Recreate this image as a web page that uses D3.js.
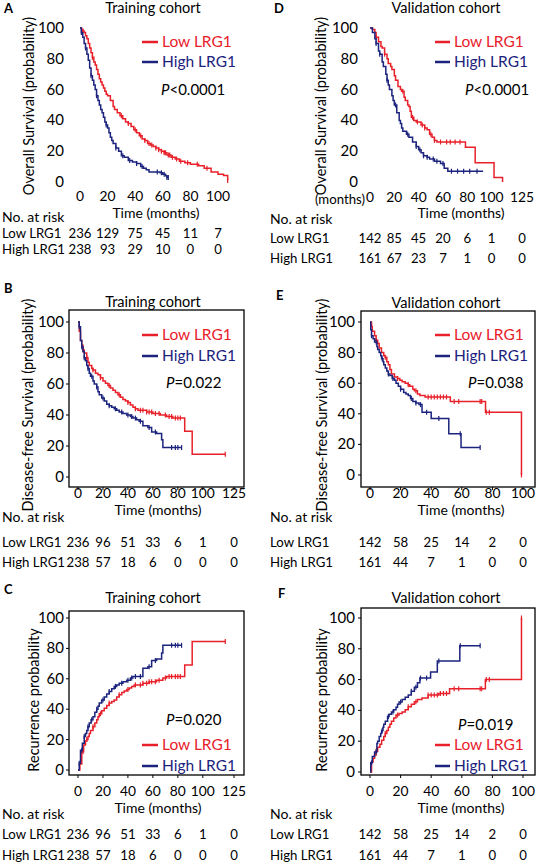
<!DOCTYPE html>
<html><head><meta charset="utf-8">
<script src="https://cdn.jsdelivr.net/npm/d3@7"></script>
<style>
html,body{margin:0;padding:0;background:#fff;}
svg{display:block;font-family:Lato,"Open Sans",sans-serif;}
</style></head>
<body>
<svg id="chart" width="537" height="864"></svg>
<script>
// ---------------- DATA ----------------
const seriesNames = ["Low LRG1", "High LRG1"];
const pTexts = ["<0.0001", "=0.022", "=0.020", "<0.0001", "=0.038", "=0.019"];
const titles = ["Training cohort", "Training cohort", "Training cohort", "Validation cohort", "Validation cohort", "Validation cohort"];
const yLabels = ["Overall Survival (probability)", "Disease-free Survival (probability)", "Recurrence probability"];
const yTicks = [0, 20, 40, 60, 80, 100];
const xTicksA = [0, 20, 40, 60, 80, 100];
const xTicksBC = [0, 20, 40, 60, 80, 100, 125];
const xTicksD = [0, 20, 40, 60, 80, 100, 125];
const xTicksEF = [0, 20, 40, 60, 80, 100];

// [month, %]
const osTrainLow = [[0,100],[1,99],[2,98],[3,97],[4,95],[5,93],[6,90],[7,87],[8,84],[9,81],[10,78],[11,76],[12,73],[13,70],[14,67],[15,65],[16,63],[17,61],[18,59],[19,57],[20,56],[22,53],[24,49],[25,47],[27,45],[29,43],[31,41],[33,39],[35,38],[37,36],[39,34],[41,32],[43,30],[45,28],[47,27],[49,25],[51,24],[53,23],[55,22],[57,21],[59,20],[61,19],[63,17.5],[66,16],[69,15],[72,13.5],[76,12.5],[80,11.5],[86,10.5],[90,9],[95,6.5],[100,5],[104,4.3],[107,1],[107,1]];
const osTrainHigh = [[0,100],[1,97],[2,94],[3,90],[4,87],[5,83],[6,79],[7,74],[8,69],[9,66],[10,63],[11,60],[12,56],[13,53],[14,50],[15,47],[16,45],[17,42],[18,39],[19,37],[20,35],[21,32],[22,29],[23,27],[24,25],[26,22],[28,20],[30,17],[32,16],[35,14],[38,13],[41,12],[44,10],[46,9],[48,8],[50,6.5],[58,6],[60,5],[62,4],[63,3],[64,3]];
const osValLow = [[0,100],[2,99],[4,97],[5,94],[7,91],[9,88],[10,87],[12,83],[14,80],[15,77],[17,75],[18,73],[20,69],[21,66],[23,62],[25,60],[26,59],[28,55],[29,53],[31,50],[32,49],[33,46],[34,42],[36,40],[38,39],[42,37],[45,35],[47,34],[49,31],[51,29],[53,27],[55,26],[78,26],[78.5,22.5],[86,22.5],[86.5,12.5],[101,12.5],[102,3],[109,3],[109,0]];
const osValHigh = [[0,100],[2,97],[4,93],[5,90],[7,85],[8,83],[10,78],[11,75],[13,70],[14,66],[15,63],[16,60],[18,56],[19,53],[20,50],[22,45],[24,40],[25,38],[26,35],[27,33],[30,31],[32,29],[35,26],[38,23],[40,21],[42,19],[44,17],[47,16],[49,15],[53,13.5],[58,12],[61,9],[64,7],[93,7]];
const dfsTrainLow = [[0,100],[1,94],[2,88],[3,85],[4,82],[5,80],[7,77],[8,74],[9,72],[11,70],[12,69],[14,67],[16,66],[18,64],[20,62],[22,60.5],[24,59],[26,57.5],[28,56],[30,54.5],[32,53],[34,51.5],[36,50],[38,49],[40,48],[42,46.5],[44,45],[46,44],[48,43],[55,42],[60,41],[66,40],[71,39],[76,38],[85,38],[85.5,29.5],[91,29.5],[91.5,14.6],[118,14.6]];
const dfsTrainHigh = [[0,100],[1,97],[2,88],[3,84],[4,81],[5,77],[6,75],[7,72],[8,70],[9,67],[10,65],[12,62],[13,60],[15,58],[16,55],[17,53],[19,51],[21,49],[23,47],[25,46],[27,45],[29,44],[31,43],[33,42],[36,41],[39,40],[42,39],[44,38],[47,37],[49,36],[52,33],[56,32],[59,29],[63,28],[66,28],[67,24],[68,19],[83,19]];
const dfsValLow = [[0,100],[1,97],[1.5,94],[3,91],[4,88],[5,86],[6,83],[7.5,80],[9,78],[10,77],[11,74],[12,72],[13,69],[14,66],[16,64],[18,63],[19.5,62],[21,61],[23,60],[25,59],[26,58],[28,56],[29,55],[31,53],[32.6,52],[36,51],[52,51],[52.5,48],[75,48],[75.5,41],[99,41],[99,0]];
const dfsValHigh = [[0,100],[0.5,95],[1,91],[2,89],[3,87],[4.5,84],[5,82],[6,80],[7,78],[7.6,76],[8.5,74],[9,72],[10,70],[11,68],[12,66],[13,65],[14.5,63],[16,62],[17,60],[18.5,58],[20,56],[22,54],[23.5,53],[25,52],[26.5,50],[28,48],[30,47],[32,46],[34,41],[39.5,41],[40,37],[51,37],[51.5,27],[59,27],[59.5,18],[72,18]];
const recTrainLow = [[0,0],[1.5,4],[3,12],[4.5,16.5],[6,19],[7,20],[8,22],[9,24],[10,26],[12,28.5],[13.5,31],[15,33],[16,35],[17,37],[19,39],[21,40.6],[23,42.5],[25,44],[27,45],[29,46],[31,48],[33,49.5],[35,51],[37,52],[39,53],[41,54],[43,55],[45,56],[52,57],[57,58],[63,59],[68,60.5],[71,61.5],[85,61.5],[85.5,69],[91,69],[91.5,84.6],[118,84.6]];
const recTrainHigh = [[0,0],[1,4.4],[2,13],[3.5,17.6],[5,22],[6,24],[7,26],[8,28.5],[9,31],[10.5,33],[12,35],[13.5,38],[15,40],[16,42],[17,44],[19,46],[21,48],[23,50],[25,51.6],[27,53.5],[29,55],[31,56],[33,57],[36,58],[39,59],[42,60.5],[44,61.5],[51,61.5],[52,67],[56,68],[59,72],[63,73],[67,77],[68,82],[83,82]];
const recValLow = [[0,0],[1,6.5],[2,9],[3,11],[4,13.5],[5,16],[6.5,18],[7.6,20.6],[9,23],[10,25],[11,27],[12,29],[13,31],[14,33],[15.5,35],[17,37],[19,38],[21,39],[23,40.5],[25,42.4],[27,44],[29,45.6],[31,47],[34,48],[38,50],[45,51],[52,54],[75,54],[75.4,60],[99,60],[99,100]];
const recValHigh = [[0,0],[0.5,6],[1.5,10],[3,13],[4.5,18.5],[5,20],[6,23],[7,25],[7.6,27],[8.5,29],[9,31],[10,33],[11.5,36],[12.5,37.5],[14,39],[15.5,40.5],[17,42],[18,44],[19,45.5],[21,47],[23,48.5],[25,50],[27,52.5],[29,55],[31,58],[32.6,61],[38,61],[39.6,65],[43.5,65],[44,72],[57.6,72],[58.7,82],[72,82]];

// censoring times (months)
const osTrainLowCens = [2,9,30,35,40,44,47,50,52,55,57,59,61,62,64,65,67,70,73,78,85,92,107];
const osTrainHighCens = [1,4,8,12,19,26,31,36,41,45,56,59,61,63,64];
const osValLowCens = [5,12,27,35,39,43,45,50,53,58,63,66,70,74];
const osValHighCens = [5,8,14,21,31,38,41,44,47,52,55,60,67,72,77,82,88];
const trainLowCens = [4,7,12,18,25,33,40,46,50,52,55,57,59,62,65,70,73,75,78,80,82,118];
const trainHighCens = [1,3,5,8,11,15,20,25,30,35,40,43,46,50,57,62,75,78,80,83];
const valLowCens = [4,10,18,25,30,38,40,42,44,46,48,50,55,58,72,73,76,78,99];
const valHighCens = [1,4,8,12,15,20,27,30,33,37,45,59,72];

// numbers at risk
const riskOsTrainLow = [236,129,75,45,11,7];
const riskOsTrainHigh = [238,93,29,10,0,0];
const riskOsValLow = [142,85,45,20,6,1,0];
const riskOsValHigh = [161,67,23,7,1,0,0];
const riskDfsTrainLow = [236,96,51,33,6,1,0];
const riskDfsTrainHigh = [238,57,18,6,0,0,0];
const riskDfsValLow = [142,58,25,14,2,0];
const riskDfsValHigh = [161,44,7,1,0,0];

// ---------------- LAYOUT ----------------
const RED = "#e8202a", BLUE = "#1b237d";
const svg = d3.select("#chart");
const FS = 14.5;   // general text
const XS = 13.8;   // x tick labels
const RS = 13.2;   // risk table

const panels = [
 {L:"A", title:titles[0], ylab:yLabels[0], low:osTrainLow, high:osTrainHigh, lc:osTrainLowCens, hc:osTrainHighCens,
  rl:riskOsTrainLow, rh:riskOsTrainHigh, p:pTexts[0], xd:[0,100], xr:[80,218], yr:[182,28], ticks:xTicksA, frame:null,
  left:0, lx:4, ly:13, tx:153, ty:13, ytx:64, ylx:29, yly:106, xty:201, timeX:156, timeY:218,
  nary:222, lowy:238, highy:254, leg:{x1:142,x2:158,y1:42,y2:62}, px:161, py:95, extra:null},
 {L:"B", title:titles[1], ylab:yLabels[1], low:dfsTrainLow, high:dfsTrainHigh, lc:trainLowCens, hc:trainHighCens,
  rl:riskDfsTrainLow, rh:riskDfsTrainHigh, p:pTexts[1], xd:[0,125], xr:[78,234], yr:[477,322], ticks:xTicksBC, frame:[69,310,244,487],
  left:0, lx:4, ly:293, tx:153, ty:307, ytx:64, ylx:28, yly:405, xty:498, timeX:158, timeY:515,
  nary:522, lowy:547, highy:567, leg:{x1:142,x2:158,y1:335,y2:356}, px:166, py:388, extra:null},
 {L:"C", title:titles[2], ylab:yLabels[2], low:recTrainLow, high:recTrainHigh, lc:trainLowCens, hc:trainHighCens,
  rl:riskDfsTrainLow, rh:riskDfsTrainHigh, p:pTexts[2], xd:[0,125], xr:[78,234], yr:[770,618], ticks:xTicksBC, frame:[69,611,244,775],
  left:0, lx:4, ly:594, tx:153, ty:603, ytx:64, ylx:34, yly:700, xty:796, timeX:158, timeY:813,
  nary:819, lowy:839, highy:860, leg:{x1:142,x2:158,y1:745,y2:766}, px:166, py:725, extra:null},
 {L:"D", title:titles[3], ylab:yLabels[0], low:osValLow, high:osValHigh, lc:osValLowCens, hc:osValHighCens,
  rl:riskOsValLow, rh:riskOsValHigh, p:pTexts[3], xd:[0,125], xr:[370,522], yr:[182,28], ticks:xTicksD, frame:null,
  left:268, lx:274, ly:13, tx:446, ty:13, ytx:358, ylx:321, yly:106, xty:202, timeX:461, timeY:218,
  nary:224, lowy:243, highy:263, leg:{x1:435,x2:450,y1:42,y2:62}, px:465, py:95, extra:"(months)"},
 {L:"E", title:titles[4], ylab:yLabels[1], low:dfsValLow, high:dfsValHigh, lc:valLowCens, hc:valHighCens,
  rl:riskDfsValLow, rh:riskDfsValHigh, p:pTexts[4], xd:[0,100], xr:[370,523], yr:[475,322], ticks:xTicksEF, frame:[361,311,535,487],
  left:268, lx:276, ly:300, tx:446, ty:308, ytx:355, ylx:322, yly:405, xty:498, timeX:461, timeY:515,
  nary:522, lowy:547, highy:567, leg:{x1:435,x2:450,y1:335,y2:356}, px:468, py:388, extra:null},
 {L:"F", title:titles[5], ylab:yLabels[2], low:recValLow, high:recValHigh, lc:valLowCens, hc:valHighCens,
  rl:riskDfsValLow, rh:riskDfsValHigh, p:pTexts[5], xd:[0,100], xr:[370,523], yr:[772,618], ticks:xTicksEF, frame:[361,608,535,775],
  left:268, lx:278, ly:598, tx:446, ty:603, ytx:355, ylx:322, yly:700, xty:796, timeX:461, timeY:813,
  nary:819, lowy:839, highy:860, leg:{x1:435,x2:450,y1:745,y2:766}, px:458, py:730, extra:null}
];

function stepVal(data, t){
  let v = data[0][1];
  for (const d of data){ if (d[0] <= t) v = d[1]; else break; }
  return v;
}

panels.forEach(P => {
  const g = svg.append("g");
  const x = d3.scaleLinear().domain(P.xd).range(P.xr);
  const y = d3.scaleLinear().domain([0,100]).range(P.yr);

  g.append("text").attr("x",P.lx).attr("y",P.ly).attr("font-weight","bold").attr("font-size",13).text(P.L);
  g.append("text").attr("x",P.tx).attr("y",P.ty).attr("text-anchor","middle").attr("font-size",14.5).text(P.title);

  if (P.frame){
    const f = P.frame;
    g.append("rect").attr("x",f[0]).attr("y",f[1]).attr("width",f[2]-f[0]).attr("height",f[3]-f[1])
      .attr("fill","none").attr("stroke","#000").attr("stroke-width",1.3);
    g.selectAll(".yt").data(yTicks).join("line")
      .attr("x1",f[0]-3).attr("x2",f[0]).attr("y1",d=>y(d)).attr("y2",d=>y(d)).attr("stroke","#000");
    g.selectAll(".xt").data(P.ticks.filter(t=>x(t)<=f[2])).join("line")
      .attr("x1",d=>x(d)).attr("x2",d=>x(d)).attr("y1",f[3]).attr("y2",f[3]+3).attr("stroke","#000");
  }
  g.selectAll(".ytl").data(yTicks).join("text")
    .attr("x",P.ytx).attr("y",d=>y(d)+5).attr("text-anchor","end").attr("font-size",FS+0.5).text(d=>d);
  g.selectAll(".xtl").data(P.ticks).join("text")
    .attr("x",d=>x(d)).attr("y",P.xty).attr("text-anchor","middle").attr("font-size",XS).text(d=>d);
  if (P.extra) g.append("text").attr("x",x(0)-5).attr("y",P.xty+2).attr("text-anchor","end").attr("font-size",13.2).text(P.extra);
  g.append("text").attr("x",P.timeX).attr("y",P.timeY).attr("text-anchor","middle").attr("font-size",14).text("Time (months)");
  g.append("text").attr("transform",`translate(${P.ylx},${P.yly}) rotate(-90)`).attr("text-anchor","middle")
    .attr("dy","0.35em").attr("font-size",FS).text(P.ylab);

  const line = d3.line().x(d=>x(d[0])).y(d=>y(d[1])).curve(d3.curveStepAfter);
  [[P.low,RED,P.lc],[P.high,BLUE,P.hc]].forEach(([data,col,cens]) => {
    g.append("path").attr("d",line(data)).attr("fill","none").attr("stroke",col).attr("stroke-width",1.5);
    g.selectAll(null).data(cens).join("line")
      .attr("x1",d=>x(d)).attr("x2",d=>x(d))
      .attr("y1",d=>y(stepVal(data,d))-2.5).attr("y2",d=>y(stepVal(data,d))+2.5)
      .attr("stroke",col).attr("stroke-width",1.2);
  });

  const L = P.leg;
  [[seriesNames[0],RED,L.y1],[seriesNames[1],BLUE,L.y2]].forEach(([name,col,yy]) => {
    g.append("line").attr("x1",L.x1).attr("x2",L.x2).attr("y1",yy).attr("y2",yy).attr("stroke",col).attr("stroke-width",2.5);
    g.append("text").attr("x",L.x2+4).attr("y",yy+5).attr("fill",col).attr("font-size",15.5).text(name);
  });
  const pt = g.append("text").attr("x",P.px).attr("y",P.py).attr("font-size",15);
  pt.append("tspan").attr("font-style","italic").text("P");
  pt.append("tspan").text(P.p);

  g.append("text").attr("x",P.left+2).attr("y",P.nary).attr("font-size",RS+0.8).text("No. at risk");
  [[seriesNames[0],P.rl,P.lowy],[seriesNames[1],P.rh,P.highy]].forEach(([name,vals,yy]) => {
    g.append("text").attr("x",P.left+2).attr("y",yy).attr("font-size",RS).text(name);
    g.selectAll(null).data(vals).join("text")
      .attr("x",(d,i)=>x(P.ticks[i])).attr("y",yy).attr("text-anchor","middle").attr("font-size",RS).text(d=>d);
  });
});
</script>
</body></html>
